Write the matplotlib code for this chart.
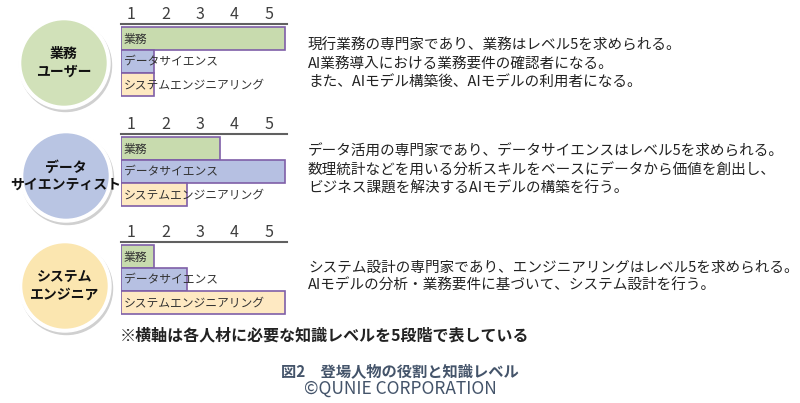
import matplotlib
matplotlib.use('Agg')
import matplotlib.pyplot as plt
from matplotlib.patches import Circle

plt.rcParams['font.family'] = ['Noto Sans CJK JP', 'DejaVu Sans']

roles = ['業務\nユーザー', 'データ\nサイエンティスト', 'システム\nエンジニア']
skills = ['業務', 'データサイエンス', 'システムエンジニアリング']
levels = [[5, 1, 1], [3, 5, 2], [1, 2, 5]]
tick_labels = ['1', '2', '3', '4', '5']
descriptions = [
    '現行業務の専門家であり、業務はレベル5を求められる。\nAI業務導入における業務要件の確認者になる。\nまた、AIモデル構築後、AIモデルの利用者になる。',
    'データ活用の専門家であり、データサイエンスはレベル5を求められる。\n数理統計などを用いる分析スキルをベースにデータから価値を創出し、\nビジネス課題を解決するAIモデルの構築を行う。',
    'システム設計の専門家であり、エンジニアリングはレベル5を求められる。\nAIモデルの分析・業務要件に基づいて、システム設計を行う。',
]
note = '※横軸は各人材に必要な知識レベルを5段階で表している'
caption = '図2　登場人物の役割と知識レベル'
credit = '©QUNIE CORPORATION'

bar_colors = ['#c8dbae', '#b6c0e2', '#fee9c2']
circle_colors = ['#d1e1b9', '#b9c5e3', '#fbe6b0']
edge = '#7f5fa8'

W, H = 800, 403
fig = plt.figure(figsize=(8, 4.03), dpi=100)

# background layer in pixel coordinates
bg = fig.add_axes([0, 0, 1, 1])
bg.set_xlim(0, W); bg.set_ylim(H, 0); bg.axis('off')

axis_y = [24, 134, 242]        # top line of each bar panel
circ_c = [(64, 63), (66, 176), (65, 286)]
desc_y = [64, 170, 277]

for k in range(3):
    cx, cy = circ_c[k]
    bg.add_patch(Circle((cx + 1.5, cy + 2.5), 46, color='#d0d0d0', zorder=1))
    bg.add_patch(Circle((cx, cy), 46, color='white', zorder=2))
    bg.add_patch(Circle((cx, cy), 42, color=circle_colors[k], zorder=3))
    bg.text(cx, cy, roles[k], ha='center', va='center', fontsize=10,
            fontweight='bold', linespacing=1.3, zorder=4, color='#111111')
    bg.text(308, desc_y[k], descriptions[k], ha='left', va='center',
            fontsize=10.5, linespacing=1.4, color='#222222')

    top = axis_y[k]
    ax = fig.add_axes([121 / W, 1 - (top + 73) / H, 166 / W, 73 / H])
    ax.barh(range(3), levels[k], height=1.0, left=0, color=bar_colors,
            edgecolor=edge, linewidth=1.2)
    for i, s in enumerate(skills):
        ax.text(0.08, i + 0.03, s, ha='left', va='center', fontsize=8.5,
                color='#333333')
    ax.set_xlim(0, 5.05)
    ax.set_ylim(2.55, -0.63)
    ax.xaxis.tick_top()
    ax.set_xticks([0.3, 1.35, 2.4, 3.45, 4.5])
    ax.set_xticklabels(tick_labels, fontsize=11.5, color='#404040')
    ax.tick_params(axis='x', length=0, pad=1)
    ax.set_yticks([])
    for sp in ['left', 'right', 'bottom']:
        ax.spines[sp].set_visible(False)
    ax.spines['top'].set_color('#606060')
    ax.spines['top'].set_linewidth(1.5)
    ax.patch.set_alpha(0)

bg.text(120, 336, note, ha='left', va='center', fontsize=11.5,
        fontweight='bold', color='#222222')
bg.text(400, 371, caption, ha='center', va='center', fontsize=11,
        fontweight='bold', color='#44546a')
bg.text(400, 389, credit, ha='center', va='center', fontsize=12.5,
        color='#44546a')

fig.savefig('out.png', dpi=100)
